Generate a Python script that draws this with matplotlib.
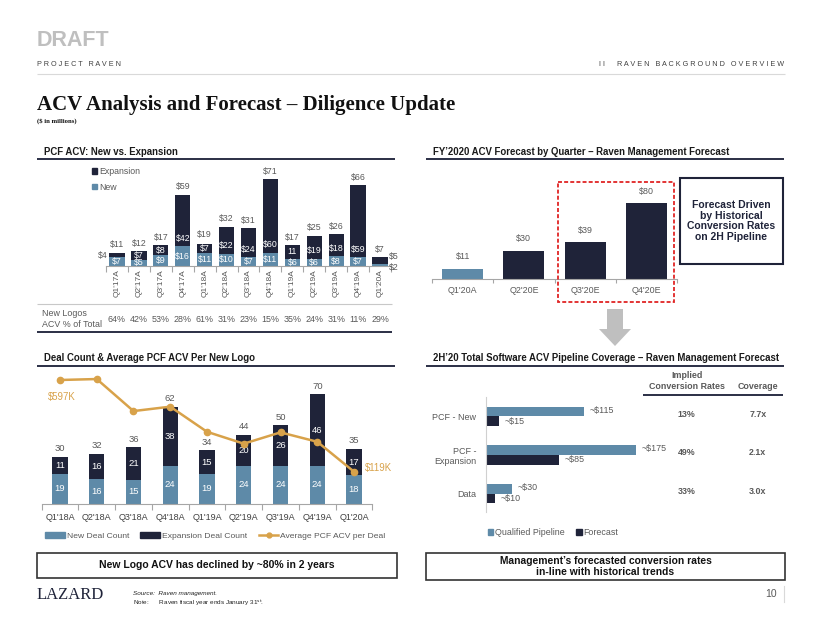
import matplotlib
matplotlib.use('Agg')
import matplotlib.pyplot as plt
import matplotlib.transforms as mtransforms
from matplotlib.patches import Rectangle, Polygon, Patch
from matplotlib.lines import Line2D

plt.rcParams['font.family'] = ['Liberation Sans', 'DejaVu Sans']

W, H = 822, 635
NAVY = '#1f2339'
BLUE = '#5e8aa8'
GOLD = '#d8a24a'
GREY = '#595959'
LGREY = '#a6a6a6'
FS = 6.3   # chart text size

# ---------------------------------------------------------------- data
acv_quarters = ["Q1'17A", "Q2'17A", "Q3'17A", "Q4'17A", "Q1'18A", "Q2'18A", "Q3'18A",
                "Q4'18A", "Q1'19A", "Q2'19A", "Q3'19A", "Q4'19A", "Q1'20A"]
acv_new = [7, 5, 9, 16, 11, 10, 7, 11, 6, 6, 8, 7, 2]
acv_exp = [4, 7, 8, 42, 7, 22, 24, 60, 11, 19, 18, 59, 5]
acv_total = [11, 12, 17, 59, 19, 32, 31, 71, 17, 25, 26, 66, 7]
new_logo_pct = [64, 42, 53, 28, 61, 31, 23, 15, 35, 24, 31, 11, 29]

fc_quarters = ["Q1'20A", "Q2'20E", "Q3'20E", "Q4'20E"]
fc_acv = [11, 30, 39, 80]

deal_quarters = ["Q1'18A", "Q2'18A", "Q3'18A", "Q4'18A", "Q1'19A",
                 "Q2'19A", "Q3'19A", "Q4'19A", "Q1'20A"]
deal_new = [19, 16, 15, 24, 19, 24, 24, 24, 18]
deal_exp = [11, 16, 21, 38, 15, 20, 26, 46, 17]
deal_total = [30, 32, 36, 62, 34, 44, 50, 70, 35]
avg_acv_k = [597, 602, 435, 458, 327, 265, 324, 275, 119]

pipe_cats = ['PCF - New', 'PCF -\nExpansion', 'Data']
pipe_qualified = [115, 175, 30]
pipe_forecast = [15, 85, 10]
conv_rates = ['13%', '49%', '33%']
coverage = ['7.7x', '2.1x', '3.0x']


def box(x0, y0, x1, y1):
    # pixel box (top-left origin) -> figure fraction rect
    return [x0 / W, 1 - y1 / H, (x1 - x0) / W, (y1 - y0) / H]


def clean(ax):
    for s in ['top', 'right', 'left']:
        ax.spines[s].set_visible(False)
    ax.spines['bottom'].set_color(LGREY)
    ax.spines['bottom'].set_linewidth(0.8)
    ax.set_yticks([])


fig = plt.figure(figsize=(W / 100, H / 100), dpi=100)

#--------------------------------------------------------------- PCF ACV new vs expansion
ax1 = fig.add_axes(box(106, 165, 391, 266))
x1 = range(len(acv_quarters))
ax1.bar(x1, acv_new, width=0.7, color=BLUE)
ax1.bar(x1, acv_exp, width=0.7, bottom=acv_new, color=NAVY)
ax1.set_xlim(-0.5, len(acv_quarters) - 0.5)
ax1.set_ylim(0, 82.8)
clean(ax1)
ax1.set_xticks(list(x1))
ax1.set_xticklabels(acv_quarters, rotation=90, fontsize=6, color=GREY)
ax1.tick_params(axis='x', length=0, pad=2.5)
ax1.set_xticks([i - 0.5 for i in range(len(acv_quarters) + 1)], minor=True)
ax1.tick_params(axis='x', which='minor', length=4, color=LGREY, width=0.8)

last = len(acv_quarters) - 1
for i in x1:
    ax1.annotate('$%d' % acv_total[i], (i, acv_total[i]), xytext=(0, 2.5),
                 textcoords='offset points', ha='center', va='bottom', fontsize=FS, color=GREY)
    if i == 0:
        ax1.annotate('$%d' % acv_exp[i], (i - 0.35, acv_new[i] + acv_exp[i] / 2),
                     xytext=(-1, 0), textcoords='offset points', ha='right', va='center',
                     fontsize=FS, color=GREY)
    elif i == last:
        ax1.annotate('$%d' % acv_exp[i], (i + 0.35, acv_total[i]), xytext=(1, 1),
                     textcoords='offset points', ha='left', va='center', fontsize=FS, color=GREY)
        ax1.annotate('$%d' % acv_new[i], (i + 0.35, 0), xytext=(1, -1),
                     textcoords='offset points', ha='left', va='center', fontsize=FS, color=GREY)
        continue
    else:
        lbl = ('%d' if i == 8 else '$%d') % acv_exp[i]
        ax1.text(i, acv_new[i] + min(6.5, acv_exp[i] / 2), lbl, ha='center', va='center',
                 fontsize=FS, color='white')
    ax1.text(i, acv_new[i] / 2, '$%d' % acv_new[i], ha='center', va='center',
             fontsize=FS, color='white')

fig.legend([Patch(color=NAVY), Patch(color=BLUE)], ['Expansion', 'New'],
           loc='upper left', bbox_to_anchor=(92 / W, 1 - 167 / H), frameon=False,
           fontsize=FS, labelcolor=GREY, handlelength=0.6, handleheight=0.6,
           handletextpad=0.25, labelspacing=0.75, borderpad=0, borderaxespad=0)

#--------------------------------------------------------------- FY2020 forecast
ax2 = fig.add_axes(box(432, 185, 677, 279.3))
x2 = range(len(fc_quarters))
ax2.bar(x2, fc_acv, width=0.67, color=[BLUE] + [NAVY] * (len(fc_acv) - 1))
ax2.set_xlim(-0.5, len(fc_quarters) - 0.5)
ax2.set_ylim(0, 99.3)
clean(ax2)
ax2.set_xticks(list(x2))
ax2.set_xticklabels(fc_quarters, fontsize=6.4, color=GREY)
ax2.tick_params(axis='x', length=0, pad=5)
ax2.set_xticks([i - 0.5 for i in range(len(fc_quarters) + 1)], minor=True)
ax2.tick_params(axis='x', which='minor', length=3, color=LGREY, width=0.8)
for i in x2:
    ax2.annotate('$%d' % fc_acv[i], (i, fc_acv[i]), xytext=(0, 5.5),
                 textcoords='offset points', ha='center', va='bottom', fontsize=6.4, color=GREY)

#--------------------------------------------------------------- deal count
ax3 = fig.add_axes(box(41.6, 370, 372.4, 503.7))
x3 = range(len(deal_quarters))
ax3.bar(x3, deal_new, width=0.41, color=BLUE)
ax3.bar(x3, deal_exp, width=0.41, bottom=deal_new, color=NAVY)
ax3.set_xlim(-0.5, len(deal_quarters) - 0.5)
ax3.set_ylim(0, 85.3)
clean(ax3)
ax3.set_xticks(list(x3))
ax3.set_xticklabels(deal_quarters, fontsize=6.5, color='#404040')
ax3.tick_params(axis='x', length=0, pad=7)
ax3.set_xticks([i - 0.5 for i in range(len(deal_quarters) + 1)], minor=True)
ax3.tick_params(axis='x', which='minor', length=4, color=LGREY, width=0.8)
for i in x3:
    ax3.annotate('%d' % deal_total[i], (i, deal_total[i]), xytext=(0, 2.5),
                 textcoords='offset points', ha='center', va='bottom', fontsize=6.8, color=GREY)
    ax3.text(i, deal_new[i] / 2, '%d' % deal_new[i], ha='center', va='center',
             fontsize=6.8, color='white')
    ax3.text(i, deal_new[i] + deal_exp[i] / 2, '%d' % deal_exp[i], ha='center', va='center',
             fontsize=6.8, color='white')

ax3b = ax3.twinx()
ax3b.plot(list(x3), avg_acv_k, color=GOLD, lw=1.8, marker='o', markersize=4.5)
ax3b.set_ylim(-47.8, 649.1)
ax3b.axis('off')
ax3b.annotate('$%dK' % avg_acv_k[0], (0, avg_acv_k[0]), xytext=(-8.6, -12.2),
              textcoords='offset points', ha='left', va='center', fontsize=6.9, color=GOLD)
ax3b.annotate('$%dK' % avg_acv_k[-1], (len(avg_acv_k) - 1, avg_acv_k[-1]), xytext=(8, 3),
              textcoords='offset points', ha='left', va='center', fontsize=6.9, color=GOLD)

fig.legend([Patch(color=BLUE), Patch(color=NAVY),
            Line2D([], [], color=GOLD, lw=1.8, marker='o', markersize=3.5)],
           ['New Deal Count', 'Expansion Deal Count', 'Average PCF ACV per Deal'],
           loc='center left', bbox_to_anchor=(45 / W, 1 - 536 / H), ncol=3, frameon=False,
           fontsize=6.1, labelcolor=GREY, handlelength=2.35, handleheight=0.75,
           handletextpad=0.2, columnspacing=1.35, borderpad=0, borderaxespad=0)

#--------------------------------------------------------------- pipeline coverage
ax4 = fig.add_axes(box(486, 396.7, 657, 511.7))
y4 = range(len(pipe_cats))
ax4.barh([y - 0.125 for y in y4], pipe_qualified, height=0.25, color=BLUE)
ax4.barh([y + 0.125 for y in y4], pipe_forecast, height=0.25, color=NAVY)
ax4.set_xlim(0, 200)
ax4.set_ylim(2.47, -0.51)
for s in ['top', 'right', 'bottom']:
    ax4.spines[s].set_visible(False)
ax4.spines['left'].set_color('#d0d0d0')
ax4.spines['left'].set_linewidth(0.8)
ax4.set_xticks([])
ax4.set_yticks(list(y4))
ax4.set_yticklabels(pipe_cats, fontsize=6.5, color=GREY)
ax4.tick_params(axis='y', length=0, pad=7)
for i in y4:
    ax4.annotate('~$%d' % pipe_qualified[i], (pipe_qualified[i], i - 0.125), xytext=(4, 1),
                 textcoords='offset points', ha='left', va='center', fontsize=6.4, color=GREY)
    ax4.annotate('~$%d' % pipe_forecast[i], (pipe_forecast[i], i + 0.125), xytext=(4, 0),
                 textcoords='offset points', ha='left', va='center', fontsize=6.4, color=GREY)

fig.legend([Patch(color=BLUE), Patch(color=NAVY)], ['Qualified Pipeline', 'Forecast'],
           loc='center left', bbox_to_anchor=(488 / W, 1 - 532.5 / H), ncol=2, frameon=False,
           fontsize=6.4, labelcolor=GREY, handlelength=0.6, handleheight=0.6,
           handletextpad=0.2, columnspacing=1.3, borderpad=0, borderaxespad=0)

#--------------------------------------------------------------- overlay in pixel coords
ov = fig.add_axes([0, 0, 1, 1])
ov.set_xlim(0, W)
ov.set_ylim(H, 0)
ov.axis('off')


def hline(x0, x1, y, color, lw):
    ov.plot([x0, x1], [y, y], color=color, lw=lw, solid_capstyle='butt')


ov.text(37, 40, 'DRAFT', fontsize=15.5, fontweight='bold', color='#bfbfbf', va='center')
ov.text(37, 64, 'P R O J E C T   R A V E N', fontsize=5.2, color='#404040', va='center')
ov.text(784, 64, 'I I      R A V E N   B A C K G R O U N D   O V E R V I E W', fontsize=5.2,
        color='#404040', va='center', ha='right')
hline(37, 785, 74, '#d9d9d9', 0.8)
ov.text(37, 105, 'ACV Analysis and Forecast \u2013 Diligence Update', fontsize=15,
        fontweight='bold', family='Liberation Serif', color='#111111', va='center')
ov.text(37, 121, '($ in millions)', fontsize=4.8, fontweight='bold', family='Liberation Serif',
        color='#111111', va='center')

# panel titles
titles = [(44, 151.7, 'PCF ACV: New vs. Expansion', 37, 395, 159),
          (432.7, 151.7, 'FY\u20192020 ACV Forecast by Quarter \u2013 Raven Management Forecast', 426, 784, 159),
          (44, 358.3, 'Deal Count & Average PCF ACV Per New Logo', 37, 395, 366),
          (432.7, 358.3, '2H\u201920 Total Software ACV Pipeline Coverage \u2013 Raven Management Forecast', 426, 784, 366)]
for tx, ty, t, lx0, lx1, ly in titles:
    ov.text(tx, ty, t, fontsize=6.9, fontweight='bold', color='#1a1a1a', va='center')
    hline(lx0, lx1, ly, '#2b2f45', 1.4)

# new logos % row
tr1 = mtransforms.blended_transform_factory(ax1.transData, ov.transData)
hline(37, 392, 304, '#c8c8c8', 0.8)
hline(37, 392, 332, '#2b2f45', 1.4)
ov.text(42, 319, 'New Logos\nACV % of Total', fontsize=6.4, color=GREY, va='center',
        linespacing=1.2)
for i, p in enumerate(new_logo_pct):
    ov.text(i, 320, '%d%%' % p, transform=tr1, ha='center', va='center', fontsize=6.4, color=GREY)

# forecast highlight box + callout
ov.add_patch(Rectangle((557.7, 182), 116.6, 120.3, fill=False, edgecolor='#e02424',
                       lw=1.3, ls=(0, (2.2, 1.2))))
ov.add_patch(Rectangle((680, 178.3), 102.7, 85.7, fill=False, edgecolor=NAVY, lw=1.5))
ov.text(731.3, 221, 'Forecast Driven\nby Historical\nConversion Rates\non 2H Pipeline',
        fontsize=7.5, fontweight='bold', color=NAVY, ha='center', va='center',
        linespacing=1.12)
ov.add_patch(Polygon([(607, 309), (623, 309), (623, 329), (631, 329), (615, 346),
                      (599, 329), (607, 329)], closed=True, color='#bfbfbf', lw=0))

# coverage table
tr4 = mtransforms.blended_transform_factory(ov.transData, ax4.transData)
ov.text(686.7, 381, 'Implied\nConversion Rates', fontsize=6.4, fontweight='bold', color=GREY,
        ha='center', va='center', linespacing=1.25)
ov.text(757.7, 386.7, 'Coverage', fontsize=6.4, fontweight='bold', color=GREY,
        ha='center', va='center')
hline(643, 783, 395, '#2b2f45', 1.4)
for i in range(len(conv_rates)):
    ov.text(686.7, i - 0.06, conv_rates[i], transform=tr4, fontsize=6.4, fontweight='bold',
            color=GREY, ha='center', va='center')
    ov.text(757.7, i - 0.06, coverage[i], transform=tr4, fontsize=6.4, fontweight='bold',
            color=GREY, ha='center', va='center')

# takeaway boxes
ov.add_patch(Rectangle((37, 553), 360, 25, fill=False, edgecolor='#333333', lw=1.2))
ov.text(217, 565.5, 'New Logo ACV has declined by ~80% in 2 years', fontsize=7.5,
        fontweight='bold', color='#111111', ha='center', va='center')
ov.add_patch(Rectangle((426, 553), 359, 27, fill=False, edgecolor='#333333', lw=1.2))
ov.text(605.5, 566.5, 'Management\u2019s forecasted conversion rates\nin-line with historical trends',
        fontsize=7.4, fontweight='bold', color='#111111', ha='center', va='center',
        linespacing=1.15)

# footer
ov.text(37, 595, 'LAZARD', fontsize=12, family='Liberation Serif', color=NAVY, va='center')
ov.text(133, 593, 'Source:  Raven management.', fontsize=4.6, style='italic', color='#222222',
        va='center')
ov.text(133, 603, 'Note:      Raven fiscal year ends January 31$^{\\mathrm{st}}$.', fontsize=4.6,
        color='#222222', va='center')
ov.text(777, 594, '10', fontsize=7.5, color=GREY, ha='right', va='center')
ov.plot([784, 784], [586, 602], color='#d9d9d9', lw=0.8)

fig.savefig('out.png', dpi=100)
